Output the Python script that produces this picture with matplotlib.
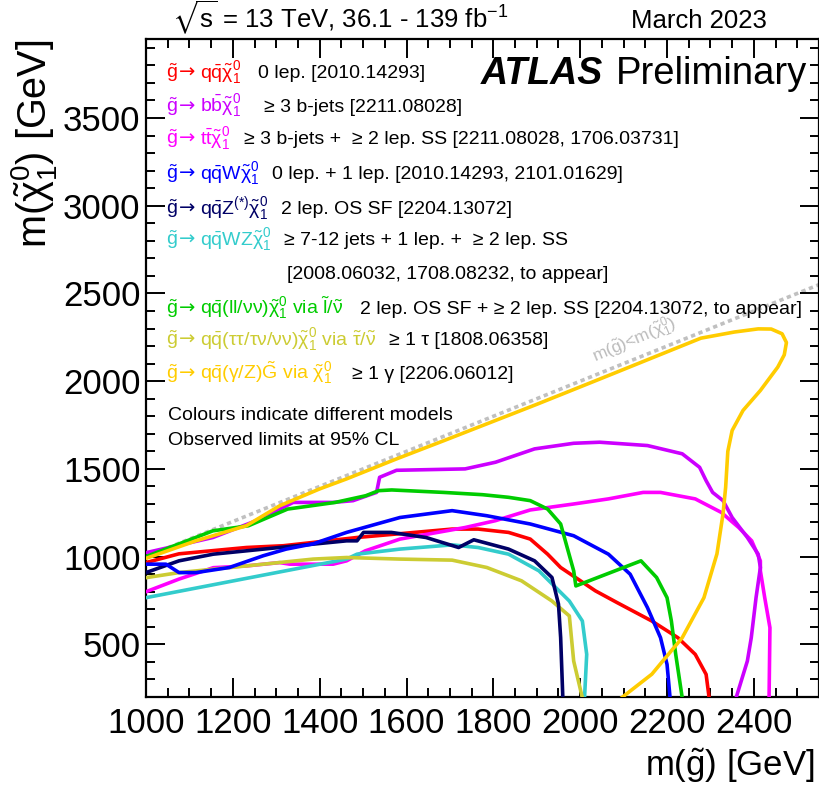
import matplotlib
matplotlib.use("Agg")
import matplotlib.pyplot as plt
from matplotlib.ticker import MultipleLocator

plt.rcParams['font.family'] = ['Liberation Sans', 'DejaVu Sans']
plt.rcParams['mathtext.fontset'] = 'custom'
plt.rcParams['mathtext.rm'] = 'Liberation Sans'
plt.rcParams['mathtext.it'] = 'Liberation Sans'
plt.rcParams['mathtext.bf'] = 'Liberation Sans:bold'
plt.rcParams['mathtext.sf'] = 'Liberation Sans'
plt.rcParams['mathtext.fallback'] = 'stixsans'

# ---------------- data (GeV) ----------------
red_x = [1000, 1076, 1231, 1316, 1385, 1486, 1705, 1765, 1835, 1885, 1925, 1955, 2035, 2085, 2165, 2225, 2265, 2290, 2297]
red_y = [966, 1016, 1052, 1062, 1081, 1109, 1157, 1157, 1138, 1100, 1014, 938, 805, 738, 633, 538, 443, 329, 195]

violet_x = [1001, 1154, 1254, 1339, 1431, 1477, 1531, 1538, 1577, 1735, 1805, 1895, 1985, 2045, 2155, 2235, 2275, 2290, 2305, 2329, 2350, 2385, 2410, 2415, 2405, 2394, 2385, 2359]
violet_y = [1023, 1109, 1205, 1309, 1309, 1319, 1366, 1452, 1492, 1500, 1538, 1614, 1646, 1652, 1633, 1586, 1509, 1433, 1366, 1319, 1223, 1109, 1014, 938, 766, 538, 405, 195]

magenta_x = [1000, 1076, 1155, 1231, 1308, 1331, 1431, 1462, 1505, 1585, 1735, 1805, 1885, 1985, 2065, 2145, 2185, 2265, 2325, 2365, 2395, 2415, 2415, 2425, 2437, 2435]
magenta_y = [800, 872, 937, 947, 966, 957, 957, 976, 1033, 1100, 1166, 1205, 1266, 1300, 1329, 1366, 1366, 1329, 1252, 1166, 1090, 976, 919, 766, 595, 195]

blue_x = [1000, 1046, 1076, 1115, 1192, 1270, 1323, 1385, 1462, 1585, 1705, 1785, 1885, 1985, 2065, 2115, 2155, 2185, 2200, 2207]
blue_y = [957, 957, 909, 909, 938, 1005, 1043, 1073, 1138, 1223, 1262, 1233, 1186, 1119, 1014, 900, 709, 538, 386, 195]

navy_x = [1000, 1076, 1155, 1231, 1307, 1462, 1486, 1501, 1565, 1645, 1720, 1755, 1835, 1895, 1935, 1950, 1955, 1960]
navy_y = [909, 976, 1014, 1033, 1052, 1090, 1090, 1138, 1138, 1109, 1052, 1096, 1043, 976, 881, 729, 538, 195]

cyan_x = [1000, 1462, 1486, 1585, 1705, 1765, 1835, 1905, 1975, 2005, 2015, 2010]
cyan_y = [766, 986, 1014, 1043, 1067, 1052, 1014, 919, 747, 633, 443, 195]

green_x = [1000, 1154, 1236, 1326, 1436, 1506, 1536, 1566, 1685, 1775, 1835, 1885, 1925, 1955, 1970, 1985, 1990, 2140, 2176, 2200, 2210, 2220, 2235]
green_y = [1000, 1147, 1176, 1271, 1309, 1347, 1376, 1380, 1366, 1353, 1338, 1319, 1271, 1186, 1052, 919, 833, 976, 881, 766, 633, 443, 195]

olive_x = [1000, 1076, 1231, 1385, 1462, 1585, 1705, 1785, 1865, 1935, 1975, 1985, 2005]
olive_y = [880, 909, 947, 986, 995, 986, 980, 938, 862, 747, 662, 405, 195]

gold_x = [1000, 1115, 1231, 1308, 1400, 1462, 1577, 1685, 1805, 1900, 2050, 2150, 2278, 2355, 2410, 2440, 2465, 2475, 2470, 2455, 2415, 2375, 2350, 2340, 2335, 2329, 2315, 2285, 2235, 2165, 2095]
gold_y = [990, 1090, 1176, 1290, 1386, 1443, 1557, 1660, 1776, 1868, 2017, 2117, 2245, 2280, 2298, 2297, 2270, 2220, 2150, 2080, 1947, 1833, 1719, 1600, 1395, 1245, 1016, 766, 538, 330, 195]

diag_x = [1000, 2550]
diag_y = [1000, 2550]

x_range = [1000, 2550]
y_range = [200, 3950]

curve_colors = {
    'red': '#ff0000', 'violet': '#cc00ff', 'magenta': '#ff00ff', 'blue': '#0000ff',
    'navy': '#000066', 'cyan': '#33cccc', 'green': '#00cc00', 'olive': '#cccc33',
    'gold': '#ffcc00',
}

# decay products (text after "g~ ->")
legend_decays = [
    r"q$\bar{q}\tilde{\chi}_{1}^{0}$",
    r"b$\bar{b}\tilde{\chi}_{1}^{0}$",
    r"t$\bar{t}\tilde{\chi}_{1}^{0}$",
    r"q$\bar{q}$W$\tilde{\chi}_{1}^{0}$",
    r"q$\bar{q}$Z$^{(*)}\tilde{\chi}_{1}^{0}$",
    r"q$\bar{q}$WZ$\tilde{\chi}_{1}^{0}$",
    "",
    r"q$\bar{q}$(ll/νν)$\tilde{\chi}_{1}^{0}$ via $\tilde{l}/\tilde{\nu}$",
    r"q$\bar{q}$(ττ/τν/νν)$\tilde{\chi}_{1}^{0}$ via $\tilde{\tau}/\tilde{\nu}$",
    r"q$\bar{q}$(γ/Z)$\tilde{G}$ via $\tilde{\chi}_{1}^{0}$",
]
legend_descs = [
    "0 lep. [2010.14293]",
    "\u2265 3 b-jets [2211.08028]",
    "\u2265 3 b-jets +  \u2265 2 lep. SS [2211.08028, 1706.03731]",
    "0 lep. + 1 lep. [2010.14293, 2101.01629]",
    "2 lep. OS SF [2204.13072]",
    "\u2265 7-12 jets + 1 lep. +  \u2265 2 lep. SS",
    "[2008.06032, 1708.08232, to appear]",
    "2 lep. OS SF + \u2265 2 lep. SS [2204.13072, to appear]",
    "\u2265 1 \u03c4 [1808.06358]",
    "\u2265 1 \u03b3 [2206.06012]",
]
legend_keys = ['red', 'violet', 'magenta', 'blue', 'navy', 'cyan', 'cyan', 'green', 'olive', 'gold']

# ---------------- figure ----------------
W, H = 820, 792
fig = plt.figure(figsize=(W / 100, H / 100), dpi=100)
L, R, T, B = 146, 819, 39, 697
ax = fig.add_axes([L / W, 1 - B / H, (R - L) / W, (B - T) / H])

def fx(px):
    return px / W

def fy(py):
    return 1 - py / H

ax.plot(diag_x, diag_y, color='#c0c0c0', lw=2.6, ls=(0, (1.2, 1.0)), zorder=1)

curves = [
    ('red', red_x, red_y), ('magenta', magenta_x, magenta_y), ('violet', violet_x, violet_y),
    ('cyan', cyan_x, cyan_y), ('olive', olive_x, olive_y), ('navy', navy_x, navy_y),
    ('blue', blue_x, blue_y), ('green', green_x, green_y), ('gold', gold_x, gold_y),
]
for key, xs, ys in curves:
    ax.plot(xs, ys, color=curve_colors[key], lw=2.6, zorder=3, solid_joinstyle='round')

ax.set_xlim(*x_range)
ax.set_ylim(*y_range)
ax.xaxis.set_major_locator(MultipleLocator(200))
ax.xaxis.set_minor_locator(MultipleLocator(50))
ax.yaxis.set_major_locator(MultipleLocator(500))
ax.yaxis.set_minor_locator(MultipleLocator(100))
ax.tick_params(which='both', direction='in', top=True, right=True, width=1.4, colors='black')
ax.tick_params(which='major', length=13.5, labelsize=25)
ax.tick_params(which='minor', length=6.5)
ax.tick_params(axis='x', pad=7)
ax.tick_params(axis='y', pad=4)
for s in ax.spines.values():
    s.set_linewidth(1.6)

# axis titles
fig.text(fx(815), fy(766), r"m($\tilde{g}$) [GeV]", ha='right', va='center', fontsize=25)
fig.text(fx(34), fy(39), r"m($\tilde{\chi}_{1}^{0}$) [GeV]", ha='center', va='top', rotation=90, fontsize=28.5)

# header
fig.text(fx(172), fy(28), r"$\sqrt{s}$ = 13 TeV, 36.1 - 139 fb$^{-1}$", ha='left', va='baseline', fontsize=18.5)
fig.text(fx(767), fy(28), "March 2023", ha='right', va='baseline', fontsize=18.5)

# ATLAS label
fig.text(fx(481), fy(84), "ATLAS", ha='left', va='baseline', fontsize=27, fontweight='bold', fontstyle='italic')
fig.text(fx(616), fy(84), "Preliminary", ha='left', va='baseline', fontsize=27.5)

# legend
line_base = [78, 112, 144, 179, 214, 245, 279, 314, 345, 379]
desc_x = [258, 264, 244, 265, 278, 278, 287, 360, 372, 352]
fig.canvas.draw()
renderer = fig.canvas.get_renderer()
for dec, desc, key, yb, xd in zip(legend_decays, legend_descs, legend_keys, line_base, desc_x):
    xpos = xd
    if dec:
        c = curve_colors[key]
        t1 = fig.text(fx(166), fy(yb), r"$\tilde{g}$", color=c, ha='left', va='baseline', fontsize=14)
        x1 = t1.get_window_extent(renderer).x1
        t2 = fig.text(x1 / W + 0.5 / W, fy(yb), "\u2192", color=c, ha='left', va='baseline', fontsize=14,
                      family=['DejaVu Sans'])
        x2 = t2.get_window_extent(renderer).x1
        t3 = fig.text((x2 + 5) / W, fy(yb), dec, color=c, ha='left', va='baseline', fontsize=14)
        bb = t3.get_window_extent(renderer)
        xpos = max(xd, bb.x1 + 12)
    fig.text(fx(xpos), fy(yb), desc, color='black', ha='left', va='baseline', fontsize=14)

fig.text(fx(168), fy(420), "Colours indicate different models", ha='left', va='baseline', fontsize=14)
fig.text(fx(168), fy(445), "Observed limits at 95% CL", ha='left', va='baseline', fontsize=14)

# kinematic boundary label
ax.text(2125, 2235, r"m($\tilde{g}$)<m($\tilde{\chi}_{1}^{0}$)", color='#bbbbbb', fontsize=12.5,
        rotation=23, rotation_mode='anchor', ha='center', va='center', zorder=2)

fig.savefig("out.png", dpi=100, facecolor='white')
